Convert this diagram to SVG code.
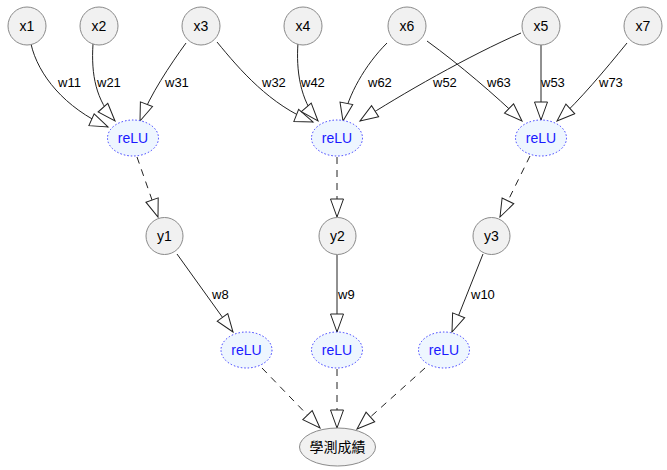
<svg xmlns="http://www.w3.org/2000/svg" width="667" height="470" viewBox="0 0 667 470">
<style>
.n circle,.n ellipse.g{fill:#f1f1f1;stroke:#8a8a8a;stroke-width:1}
.r ellipse{fill:#eef6ff;stroke:#3a3aff;stroke-width:1;stroke-dasharray:1.5,2}
.t{font-family:"Liberation Sans","Noto Sans CJK TC",sans-serif;font-size:14px;fill:#000;text-anchor:middle;dominant-baseline:central}
.rt{font-family:"Liberation Sans",sans-serif;font-size:14px;fill:#1a1aff;text-anchor:middle;dominant-baseline:central}
.e path{fill:none;stroke:#222;stroke-width:1;marker-end:url(#ah)}
.e path.d{stroke-dasharray:7,6}
.l{font-family:"Liberation Sans",sans-serif;font-size:13px;fill:#000}
</style>
<defs>
<marker id="ah" markerUnits="userSpaceOnUse" markerWidth="22" markerHeight="18" refX="19" refY="8" orient="auto" viewBox="0 0 22 18">
<path d="M1,1.5 L19,8 L1,14.5 Z" fill="#fff" stroke="#222" stroke-width="1" stroke-dasharray="none"/>
</marker>
</defs>
<g id="edges" class="e">
<path d="M31,44 C38,75 65,108 108,127"/>
<path d="M93,44 C91,75 96,100 115,121"/>
<path d="M186,43 C170,65 150,95 140,121"/>
<path d="M217,42 C240,70 270,105 313,122"/>
<path d="M298,43 C296,70 300,100 318,121"/>
<path d="M387,43 C365,65 348,95 343,121"/>
<path d="M521,33 C470,55 400,95 360,121"/>
<path d="M427,41 C460,65 495,95 522,121"/>
<path d="M541,45 L541,120"/>
<path d="M627,43 C605,70 580,100 557,121"/>
<path class="d" d="M137,157 L158,217"/>
<path class="d" d="M337,157 L337,217"/>
<path class="d" d="M530,156 L500,217"/>
<path d="M177,254 L233,332"/>
<path d="M337,255 L337,332"/>
<path d="M483,254 L452,332"/>
<path class="d" d="M262,368 L320,428"/>
<path class="d" d="M337,369 L337,428"/>
<path class="d" d="M425,368 L357,429"/>
</g>
<g id="labels">
<text class="l" x="58" y="87">w11</text>
<text class="l" x="97" y="87">w21</text>
<text class="l" x="165" y="87">w31</text>
<text class="l" x="262" y="87">w32</text>
<text class="l" x="301" y="87">w42</text>
<text class="l" x="368" y="87">w62</text>
<text class="l" x="433" y="87">w52</text>
<text class="l" x="487" y="87">w63</text>
<text class="l" x="541" y="87">w53</text>
<text class="l" x="599" y="87">w73</text>
<text class="l" x="212" y="299">w8</text>
<text class="l" x="338" y="299">w9</text>
<text class="l" x="471" y="299">w10</text>
</g>
<g id="x1" class="n"><circle cx="27" cy="26" r="19"/><text class="t" x="27" y="26">x1</text></g>
<g id="x2" class="n"><circle cx="99" cy="26" r="19"/><text class="t" x="99" y="26">x2</text></g>
<g id="x3" class="n"><circle cx="201" cy="26" r="19"/><text class="t" x="201" y="26">x3</text></g>
<g id="x4" class="n"><circle cx="303" cy="26" r="19"/><text class="t" x="303" y="26">x4</text></g>
<g id="x6" class="n"><circle cx="407" cy="26" r="19"/><text class="t" x="407" y="26">x6</text></g>
<g id="x5" class="n"><circle cx="541" cy="26" r="19"/><text class="t" x="541" y="26">x5</text></g>
<g id="x7" class="n"><circle cx="643" cy="26" r="19"/><text class="t" x="643" y="26">x7</text></g>
<g id="relu1" class="r"><ellipse cx="133" cy="138" rx="25.5" ry="18"/><text class="rt" x="133" y="138">reLU</text></g>
<g id="relu2" class="r"><ellipse cx="337" cy="138" rx="25.5" ry="18"/><text class="rt" x="337" y="138">reLU</text></g>
<g id="relu3" class="r"><ellipse cx="541" cy="138" rx="25.5" ry="18"/><text class="rt" x="541" y="138">reLU</text></g>
<g id="y1" class="n"><circle cx="164.5" cy="236" r="18.5"/><text class="t" x="164.5" y="236">y1</text></g>
<g id="y2" class="n"><circle cx="337.5" cy="236" r="18.5"/><text class="t" x="337.5" y="236">y2</text></g>
<g id="y3" class="n"><circle cx="491.5" cy="236" r="18.5"/><text class="t" x="491.5" y="236">y3</text></g>
<g id="relu4" class="r"><ellipse cx="246.5" cy="350" rx="25.5" ry="18"/><text class="rt" x="246.5" y="350">reLU</text></g>
<g id="relu5" class="r"><ellipse cx="337" cy="350" rx="25.5" ry="18"/><text class="rt" x="337" y="350">reLU</text></g>
<g id="relu6" class="r"><ellipse cx="444" cy="350" rx="25.5" ry="18"/><text class="rt" x="444" y="350">reLU</text></g>
<g id="score" class="n"><ellipse class="g" cx="337.5" cy="447" rx="38" ry="19"/><text class="t" x="337.5" y="447">學測成績</text></g>
</svg>
